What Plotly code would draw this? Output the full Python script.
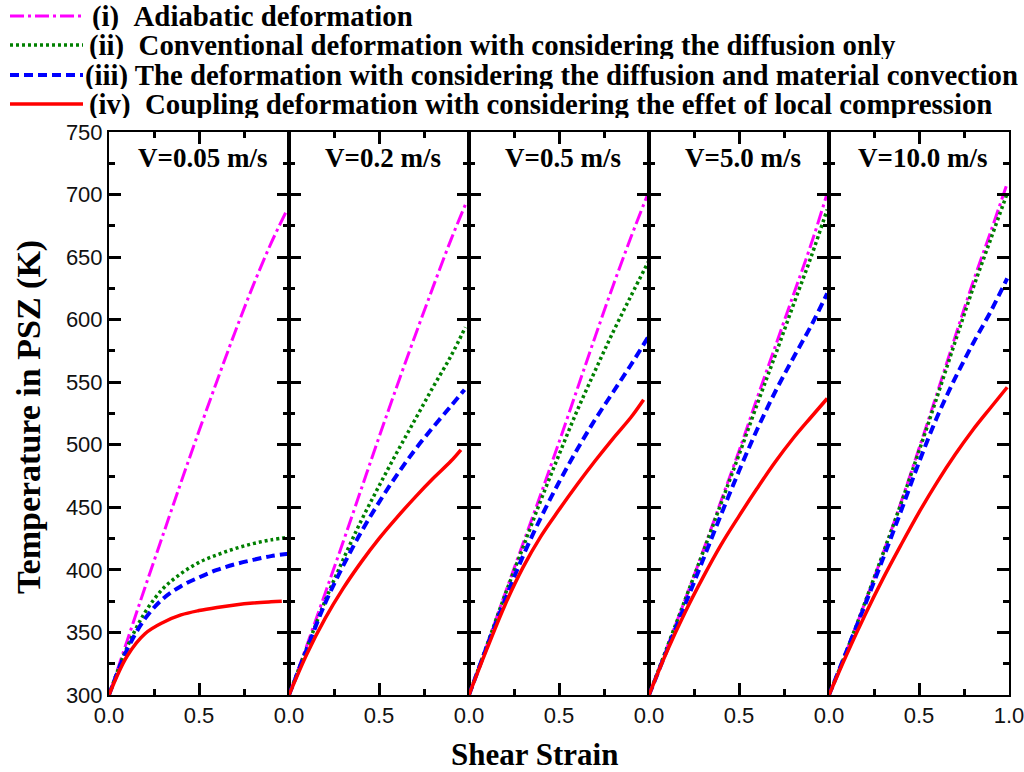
import plotly.graph_objects as go

# ---------------- data ----------------
STRAIN = [0, 0.1, 0.2, 0.3, 0.4, 0.5, 0.6, 0.7, 0.8, 0.9]

VELOCITY_LABELS = ["V=0.05 m/s", "V=0.2 m/s", "V=0.5 m/s", "V=5.0 m/s", "V=10.0 m/s"]

# (i) adiabatic deformation
END_ADIABATIC = [0.99, 0.98, 0.995, 0.99, 0.99]
T_ADIABATIC = [
    [300, 343, 386, 428, 470, 511, 551, 590, 627, 661, 688],
    [300, 340, 381, 422, 464, 506, 547, 587, 626, 664, 692],
    [300, 340, 381, 421, 461, 502, 544, 586, 627, 666, 701],
    [300, 338, 376, 415, 455, 495, 537, 578, 619, 660, 701],
    [300, 336, 374, 413, 454, 497, 541, 586, 630, 671, 709],
]

# (ii) diffusion only
END_DIFFUSION = [1.0, 0.98, 0.995, 0.99, 0.99]
T_DIFFUSION = [
    [300, 338, 366, 385, 397, 406, 412, 417, 421, 424, 426],
    [300, 338, 375, 408, 439, 467, 494, 520, 546, 571, 594],
    [300, 340, 380, 418, 456, 492, 527, 559, 590, 619, 646],
    [300, 338, 376, 414, 453, 492, 532, 571, 611, 650, 688],
    [300, 336, 374, 413, 453, 495, 538, 582, 625, 665, 701],
]

# (iii) diffusion and material convection
END_CONVECTION = [1.0, 0.975, 0.995, 0.99, 0.99]
T_CONVECTION = [
    [300, 336, 361, 377, 387, 394, 400, 404.5, 408, 411, 413],
    [300, 337, 373, 403, 430, 454, 476, 496, 514, 531, 544],
    [300, 339, 376, 411, 442, 470, 496, 520, 542, 564, 586],
    [300, 336, 372, 408, 444, 479, 512, 542, 569, 595, 621],
    [300, 336, 372, 409, 447, 486, 522, 553, 581, 607, 633],
]

# (iv) coupling with local compression
END_COUPLING = [0.96, 0.955, 0.97, 0.99, 0.99]
T_COUPLING = [
    [300, 331, 349, 358, 364, 367.5, 370, 372, 373.5, 374.5, 375],
    [300, 333, 361, 385, 406, 425, 442, 458, 473, 487, 496],
    [300, 337, 372, 402, 427, 448, 468, 487, 505, 522, 536],
    [300, 335, 366, 394, 420, 443, 465, 486, 505, 522, 537],
    [300, 333, 364, 393, 420, 446, 470, 492, 512, 530, 546],
]

SERIES_NAMES = [
    "(i)\u00a0\u00a0Adiabatic deformation",
    "(ii)\u00a0\u00a0Conventional deformation with considering the diffusion only",
    "(iii) The deformation with considering the diffusion and material convection",
    "(iv)\u00a0\u00a0Coupling deformation with considering the effet of local compression",
]

# axis ranges and tick labels
Y_RANGE = [300, 750]
X_RANGE = [0, 1]
X_TICKS = [0, 0.5, 1.0]
X_TICK_LABELS = ["0.0", "0.5", "1.0"]
X_MINOR_TICKS = [0.25, 0.75]

# ---------------- styling ----------------
W, H = 1024, 772
ML, MR, MT, MB = 109, 15, 132, 77
PW, PH = W - ML - MR, H - MT - MB
MAJOR_LEN, MINOR_LEN = 12, 6

STYLES = [
    dict(color="#FF00FF", width=3, dash="14px,4px,3px,4px"),
    dict(color="#008000", width=3.5, dash="3px,3px"),
    dict(color="#0000FF", width=4, dash="9px,5px"),
    dict(color="#FF0000", width=3.5, dash="solid"),
]
SERIES = [
    (T_ADIABATIC, END_ADIABATIC),
    (T_DIFFUSION, END_DIFFUSION),
    (T_CONVECTION, END_CONVECTION),
    (T_COUPLING, END_COUPLING),
]

SERIF = "Liberation Serif, Times New Roman, serif"
SANS = "Liberation Sans, Arial, sans-serif"

n_panels = len(VELOCITY_LABELS)


def px_to_paper_x(px):
    return (px - ML) / PW


def px_to_paper_y(py):
    return (H - MB - py) / PH


fig = go.Figure()

for i in range(n_panels):
    xa = "x" if i == 0 else f"x{i + 1}"
    ya = "y" if i == 0 else f"y{i + 1}"
    for k, (temps, ends) in enumerate(SERIES):
        st = STYLES[k]
        fig.add_trace(go.Scatter(
            x=STRAIN + [ends[i]], y=temps[i],
            xaxis=xa, yaxis=ya, mode="lines",
            line=dict(color=st["color"], width=st["width"], dash=st["dash"],
                      shape="spline", smoothing=1.0),
            showlegend=False, hoverinfo="skip",
        ))

    last = i == n_panels - 1
    n_lab = 3 if last else 2   # the shared 1.0/0.0 boundary shows only "0.0"
    axis_common = dict(
        ticks="inside", tickwidth=2.5, tickcolor="black", ticklen=MAJOR_LEN,
        showline=True, linewidth=2, linecolor="black", mirror="ticks",
        showgrid=False, zeroline=False, automargin=False,
        ticklabeloverflow="allow",
        tickfont=dict(family=SANS, size=22, color="#111"),
    )
    dom = [i / n_panels, (i + 1) / n_panels]
    fig.layout[f"xaxis{'' if i == 0 else i + 1}"] = dict(
        domain=dom, anchor=ya, range=X_RANGE,
        tickmode="array", tickvals=X_TICKS[:n_lab], ticktext=X_TICK_LABELS[:n_lab],
        minor=dict(tickmode="array", tickvals=X_MINOR_TICKS, ticks="inside",
                   ticklen=MINOR_LEN, tickwidth=2.5, tickcolor="black",
                   showgrid=False),
        **axis_common,
    )
    fig.layout[f"yaxis{'' if i == 0 else i + 1}"] = dict(
        domain=[0, 1], anchor=xa, range=Y_RANGE,
        tick0=0, dtick=50, showticklabels=(i == 0),
        minor=dict(tick0=0, dtick=25, ticks="inside", ticklen=MINOR_LEN,
                   tickwidth=2.5, tickcolor="black", showgrid=False),
        **axis_common,
    )

    fig.add_annotation(
        text=f"<b>{VELOCITY_LABELS[i]}</b>", xref=f"{xa} domain", yref="paper",
        x=0.52, y=px_to_paper_y(158), xanchor="center", yanchor="middle",
        showarrow=False, font=dict(family=SERIF, size=27, color="black"),
    )

# ---------------- legend (drawn above the panels) ----------------
LEG_ROWS_Y = [16, 45, 75, 104]
LEG_TEXT_X = [91, 88, 84, 88]
for k, name in enumerate(SERIES_NAMES):
    st = STYLES[k]
    py = LEG_ROWS_Y[k]
    fig.add_shape(
        type="line", xref="paper", yref="paper",
        x0=px_to_paper_x(10), x1=px_to_paper_x(83),
        y0=px_to_paper_y(py), y1=px_to_paper_y(py),
        line=dict(color=st["color"], width=st["width"], dash=st["dash"]),
    )
    fig.add_annotation(
        text=f"<b>{name}</b>", xref="paper", yref="paper",
        x=px_to_paper_x(LEG_TEXT_X[k]), y=px_to_paper_y(py),
        xanchor="left", yanchor="middle", showarrow=False, height=28,
        valign="middle", borderpad=0,
        font=dict(family=SERIF, size=28.8, color="black"),
    )

# axis titles
fig.add_annotation(
    text="<b>Temperature in PSZ (K)</b>", xref="paper", yref="paper",
    x=px_to_paper_x(29), y=px_to_paper_y(417), textangle=-90,
    xanchor="center", yanchor="middle", showarrow=False,
    font=dict(family=SERIF, size=34, color="black"),
)
fig.add_annotation(
    text="<b>Shear Strain</b>", xref="paper", yref="paper",
    x=px_to_paper_x(534), y=px_to_paper_y(754),
    xanchor="center", yanchor="middle", showarrow=False,
    font=dict(family=SERIF, size=31, color="black"),
)

fig.update_layout(
    width=W, height=H, margin=dict(l=ML, r=MR, t=MT, b=MB, autoexpand=False),
    paper_bgcolor="white", plot_bgcolor="white", showlegend=False,
)

fig.write_html("out.html")
